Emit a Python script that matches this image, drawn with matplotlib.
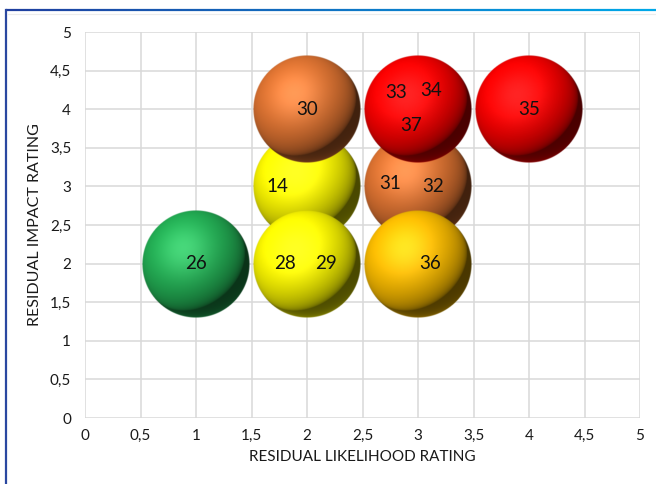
import numpy as np
import matplotlib.pyplot as plt
from matplotlib.collections import LineCollection
from matplotlib.colors import to_rgb

# risk bubbles: likelihood (x), impact (y), risk ids shown in each bubble
likelihood = [2, 3, 1, 2, 3, 2, 3, 4]
impact = [3, 3, 2, 2, 2, 4, 4, 4]
colors = ["#f6f200", "#d87030", "#22aa52", "#f6f200", "#f5b800", "#d87030", "#f20000", "#f20000"]
risk_ids = [["14"], ["31", "32"], ["26"], ["28", "29"], ["36"], ["30"], ["33", "34", "37"], ["35"]]
# where each id sits inside its bubble, in pixels from the centre
id_offsets = [[(-30, 0)], [(-28, 3), (15, 0)], [(0, 0)], [(-22, 0), (19, 0)], [(12, 0)],
              [(0, 0)], [(-22, 17), (13, 19), (-7, -16)], [(0, 0)]]

ticks = np.arange(0, 5.01, 0.5)
tick_labels = [f"{t:g}".replace(".", ",") for t in ticks]

plt.rcParams['font.family'] = ['Lato', 'DejaVu Sans']

W, H = 656, 484
fig = plt.figure(figsize=(W / 100, H / 100), dpi=100)
ax = fig.add_axes([85 / W, (H - 418) / H, 555 / W, 386 / H])
ax.set_xlim(0, 5)
ax.set_ylim(0, 5)
ax.set_xticks(ticks)
ax.set_yticks(ticks)
ax.set_xticklabels(tick_labels)
ax.set_yticklabels(tick_labels)
ax.tick_params(length=0, labelsize=11, colors="#1a1a1a")
ax.tick_params(axis="y", pad=10)
ax.tick_params(axis="x", pad=8)
ax.grid(True, color="#d9d9d9", lw=1.1)
ax.set_axisbelow(True)
for s in ax.spines.values():
    s.set_visible(False)
ax.set_xlabel("RESIDUAL LIKELIHOOD RATING", fontsize=11, color="#1a1a1a", labelpad=5)
ax.set_ylabel("RESIDUAL IMPACT RATING", fontsize=11.5, color="#1a1a1a", labelpad=6)


def sphere(color, n=220):
    base = np.array(to_rgb(color))
    u = np.linspace(-1, 1, n)
    X, Y = np.meshgrid(u, -u)
    r2 = X ** 2 + Y ** 2
    Z = np.sqrt(np.clip(1 - r2, 0, 1))
    L = np.array([-0.40, 0.50, 0.77])
    L = L / np.linalg.norm(L)
    diff = np.clip(X * L[0] + Y * L[1] + Z * L[2], 0, 1)
    hv = L + np.array([0, 0, 1.0])
    hv = hv / np.linalg.norm(hv)
    spec = np.clip(X * hv[0] + Y * hv[1] + Z * hv[2], 0, 1) ** 8
    rim = np.clip(-Y, 0, 1) ** 2 * (1 - Z) ** 2 * 0.3
    shade = 0.30 + 0.78 * diff ** 0.5
    rgb = base[None, None, :] * shade[..., None]
    rgb = rgb + spec[..., None] * 0.14 + rim[..., None] * base
    rgb = np.clip(rgb, 0, 1)
    alpha = np.clip((1 - np.sqrt(r2)) * n / 2, 0, 1)
    return np.dstack([rgb, alpha])


r_px = 54
rx = r_px / (555 / 5)
ry = r_px / (386 / 5)
for i, (x, y, c) in enumerate(zip(likelihood, impact, colors)):
    ax.imshow(sphere(c), extent=(x - rx, x + rx, y - ry, y + ry), origin="upper",
              interpolation="bilinear", zorder=3 + i, aspect="auto")
    for lab, (dx, dy) in zip(risk_ids[i], id_offsets[i]):
        ax.annotate(lab, (x, y), xytext=(dx, dy), textcoords="offset pixels",
                    ha="center", va="center", fontsize=13.5, color="#111111", zorder=20)
ax.set_xlim(0, 5)
ax.set_ylim(0, 5)

# chart frame
xs = np.linspace(6, W, 60)
segs = [[((xs[k]) / W, (H - 10) / H), (xs[k + 1] / W, (H - 10) / H)] for k in range(len(xs) - 1)]
c0, c1 = np.array(to_rgb("#1f3f9f")), np.array(to_rgb("#00a8e8"))
seg_cols = [c0 + (c1 - c0) * k / (len(segs) - 1) for k in range(len(segs))]
fig.add_artist(LineCollection(segs, colors=seg_cols, linewidths=1.6, transform=fig.transFigure))
fig.add_artist(plt.Line2D([6 / W, 6 / W], [0, (H - 10) / H], color="#2a47a0", lw=1.6,
                          transform=fig.transFigure))
fig.add_artist(plt.Line2D([8 / W, 1], [(H - 14) / H, (H - 14) / H], color="#ececec", lw=0.8,
                          transform=fig.transFigure))

fig.savefig("out.png", dpi=100)
